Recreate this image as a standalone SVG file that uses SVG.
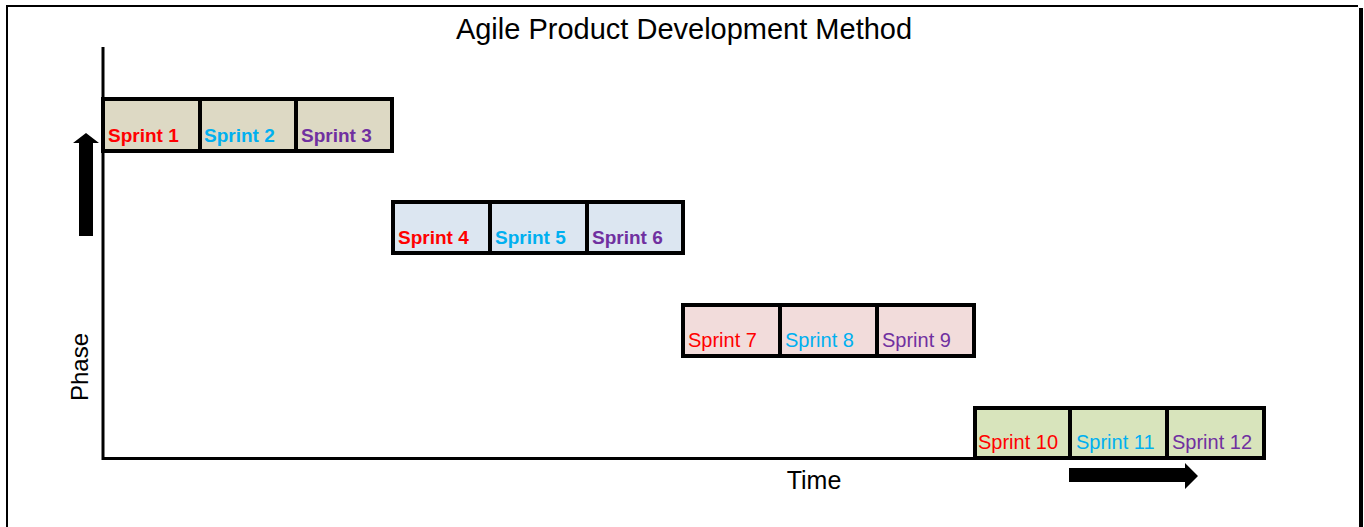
<svg xmlns="http://www.w3.org/2000/svg" width="1364" height="527" viewBox="0 0 1364 527">
<style>
.t{font-family:"Liberation Sans",Arial,sans-serif}
.b{font-weight:bold;font-size:19px}
.n{font-size:20px}
.r{fill:#FF0000}.c{fill:#00B0F0}.p{fill:#7030A0}
.box{stroke:#000;stroke-width:4}
.ax{stroke:#000;stroke-width:3;fill:none}
</style>
<rect width="1364" height="527" fill="#fff"/>
<g id="frame">
<path d="M7 527 V6 H1358" fill="none" stroke="#000" stroke-width="2"/>
<rect x="1359" y="8" width="4" height="519" fill="#000"/>
</g>
<text class="t" x="684" y="39" font-size="29" text-anchor="middle">Agile Product Development Method</text>
<g id="connectors">
<path class="ax" d="M103 47 V458.5 H1266"/>
<path d="M79 236 V143 H73 L86 133 L99 143 H93 V236 Z" fill="#000"/>
<path d="M1069 468 H1185 V463 L1198 476 L1185 489 V482 H1069 Z" fill="#000"/>
</g>
<text class="t" x="814" y="489" font-size="25" text-anchor="middle">Time</text>
<text class="t" transform="translate(88 367) rotate(-90)" font-size="24" text-anchor="middle">Phase</text>
<g id="phase1">
<rect class="box" x="103" y="99" width="289" height="52" fill="#DDD9C4"/>
<path class="box" d="M200 99 V151 M296 99 V151"/>
<text class="t b r" x="108" y="142">Sprint 1</text>
<text class="t b c" x="204" y="142">Sprint 2</text>
<text class="t b p" x="301" y="142">Sprint 3</text>
</g>
<g id="phase2">
<rect class="box" x="393" y="202" width="290" height="51" fill="#DCE6F1"/>
<path class="box" d="M490 202 V253 M587 202 V253"/>
<text class="t b r" x="398" y="244">Sprint 4</text>
<text class="t b c" x="495" y="244">Sprint 5</text>
<text class="t b p" x="592" y="244">Sprint 6</text>
</g>
<g id="phase3">
<rect class="box" x="683" y="305" width="291" height="51" fill="#F2DCDB"/>
<path class="box" d="M780 305 V356 M877 305 V356"/>
<text class="t n r" x="688" y="347">Sprint 7</text>
<text class="t n c" x="785" y="347">Sprint 8</text>
<text class="t n p" x="882" y="347">Sprint 9</text>
</g>
<g id="phase4">
<rect class="box" x="975" y="408" width="289" height="50" fill="#D8E4BC"/>
<path class="box" d="M1070 408 V458 M1167 408 V458"/>
<text class="t n r" x="978" y="449">Sprint 10</text>
<text class="t n c" x="1076" y="449">Sprint 11</text>
<text class="t n p" x="1172" y="449">Sprint 12</text>
</g>
</svg>
